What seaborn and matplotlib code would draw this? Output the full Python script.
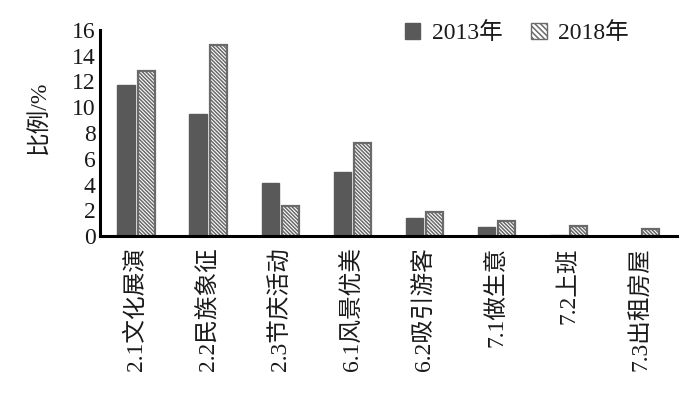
import numpy as np
import pandas as pd
import matplotlib
matplotlib.use("Agg")
import matplotlib.pyplot as plt
import seaborn as sns
from matplotlib.patches import Patch

# 数据
categories = ["2.1文化展演", "2.2民族象征", "2.3节庆活动", "6.1风景优美",
              "6.2吸引游客", "7.1做生意", "7.2上班", "7.3出租房屋"]
years = ["2013年", "2018年"]
vals_2013 = [11.7, 9.5, 4.1, 5.0, 1.4, 0.7, 0.1, 0.0]
vals_2018 = [12.8, 14.8, 2.3, 7.2, 1.9, 1.2, 0.8, 0.55]

df = pd.DataFrame({
    "cat": categories * 2,
    "year": [years[0]] * len(categories) + [years[1]] * len(categories),
    "val": vals_2013 + vals_2018,
})

sns.set_theme(style="white")
plt.rcParams["font.family"] = ["Liberation Serif", "Noto Sans CJK SC", "DejaVu Sans"]
plt.rcParams["hatch.linewidth"] = 1.1
plt.rcParams["hatch.color"] = "#444444"

DARK = "#595959"
EDGE = "#6a6a6a"
HATCH = "\\" * 9

fig = plt.figure(figsize=(6.97, 3.97), dpi=100)
ax = fig.add_axes([0.1435, 0.4055, 0.8275, 0.519])

sns.barplot(data=df, x="cat", y="val", hue="year", order=categories,
            hue_order=years, palette=[DARK, "white"], width=0.56, gap=0.15,
            saturation=1, ax=ax, legend=False)

n = len(categories)
for i, p in enumerate(ax.patches[:2 * n]):
    if i < n:
        p.set_facecolor(DARK)
        p.set_edgecolor(DARK)
    else:
        p.set_facecolor("white")
        p.set_edgecolor(EDGE)
        p.set_hatch(HATCH)
        p.set_linewidth(1.6)

ax.set_ylim(0, 16)
ax.set_xlim(-0.5, n - 0.5)
ax.set_yticks(np.arange(0, 17, 2))
ax.set_xticks(np.arange(n))
ax.set_xticklabels(categories, rotation=90, fontsize=17)
ax.set_xticks(np.arange(n + 1) - 0.5, minor=True)
ax.tick_params(axis="x", which="major", length=0, pad=8, colors="#1a1a1a")
ax.tick_params(axis="x", which="minor", direction="in", length=6, width=2, color="black")
ax.tick_params(axis="y", direction="in", length=6, width=2, color="black",
               labelsize=17, pad=3, labelcolor="#1a1a1a")
ax.set_xlabel("")
ax.set_ylabel("比例/%", fontsize=17, color="#1a1a1a")
ax.yaxis.set_label_coords(-0.085, 0.575)

for s in ["top", "right"]:
    ax.spines[s].set_visible(False)
for s in ["left", "bottom"]:
    ax.spines[s].set_linewidth(2.2)
    ax.spines[s].set_color("black")

handles = [Patch(facecolor=DARK, edgecolor=DARK, label=years[0]),
           Patch(facecolor="white", edgecolor=EDGE, hatch="\\" * 6, label=years[1])]
fig.legend(handles=handles, loc="center", bbox_to_anchor=(0.742, 0.917),
           ncol=2, frameon=False, fontsize=17, handlelength=0.65, handleheight=0.65,
           handletextpad=0.5, columnspacing=1.2, labelcolor="#1a1a1a")

fig.savefig("out.png", dpi=100)
